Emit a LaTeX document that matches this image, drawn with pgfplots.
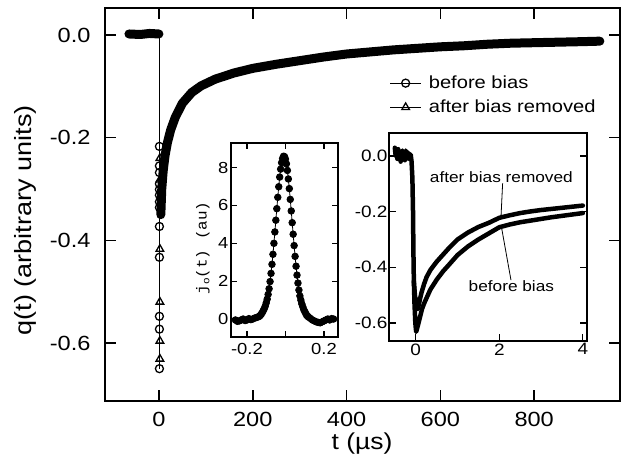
\documentclass[border=0pt]{standalone}
\usepackage{fontspec}
\setmainfont[FakeStretch=1.15]{Liberation Sans}
\setmonofont[FakeStretch=1.1]{Liberation Mono}
\usepackage{pgfplots}
\pgfplotsset{compat=1.18}
\begin{document}
\begin{tikzpicture}[x=1pt,y=1pt]
\useasboundingbox (0,0) rectangle (623,472);
% ---------------- main axis ----------------
\begin{axis}[
  at={(105pt,71pt)}, anchor=south west,
  scale only axis, width=515pt, height=393pt,
  xmin=-115, xmax=983, ymin=-0.713, ymax=0.0526,
  xtick={0,200,400,600,800}, ytick={-0.6,-0.4,-0.2,0},
  tick align=inside, major tick length=11pt,
  axis line style={line width=1.6pt}, tick style={line width=1.5pt, black},
  /pgf/number format/assume math mode=true,
  yticklabel style={/pgf/number format/fixed, /pgf/number format/fixed zerofill, /pgf/number format/precision=1, xshift=-11pt},
  ticklabel style={font=\fontsize{20.5}{22}\selectfont},
  xticklabel style={yshift=-8pt},
  xlabel={t (\textmu s)}, ylabel={q(t) (arbitrary units)},
  every axis x label/.style={at={(axis description cs:0.499,-0.107)}, anchor=center, font=\fontsize{23}{26}\selectfont},
  every axis y label/.style={at={(axis description cs:-0.155,0.46)}, rotate=90, anchor=center, font=\fontsize{23.5}{26}\selectfont},
  legend style={draw=none, fill=none, at={(axis description cs:0.55,0.835)}, anchor=north west,
    font=\fontsize{17.5}{19}\selectfont, row sep=6pt, inner sep=1pt, nodes={inner sep=2pt}},
  legend cell align=left,
  legend image code/.code={\draw[mark repeat=2,mark phase=2] plot coordinates {(0cm,0cm) (0.55cm,0cm) (1.1cm,0cm)};},
]
% thick data band: flat part
\addplot[black, line width=9pt, line cap=round, forget plot] coordinates {(-64,0.002) (-40,0.001) (-20,0.003) (0,0.002)};
% thick data band: recovery
\addplot[black, line width=9pt, line cap=round, line join=round, forget plot] coordinates {
(4,-0.35) (6,-0.30) (9,-0.265) (13,-0.235) (18,-0.21) (25,-0.185) (35,-0.16) (50,-0.133)
(70,-0.112) (90,-0.099) (120,-0.086) (160,-0.074) (200,-0.065) (250,-0.057) (300,-0.050)
(350,-0.043) (400,-0.037) (450,-0.033) (500,-0.029) (550,-0.026) (600,-0.023) (650,-0.021)
(700,-0.018) (750,-0.016) (800,-0.015) (850,-0.014) (900,-0.013) (940,-0.012)};
% vertical drops
\addplot[black, line width=1.1pt, forget plot] coordinates {(1,0.002) (1,-0.65)};
\addplot[black, line width=1.1pt, forget plot] coordinates {(2,0.002) (2,-0.631)};
\addplot[black, line width=1.1pt, mark=o, mark size=4pt, mark options={line width=1.3pt, fill=white}] coordinates {
(1,-0.217) (1,-0.255) (1,-0.268) (1,-0.290) (1,-0.301) (1,-0.312) (1,-0.325) (1,-0.336)
(1,-0.373) (1,-0.433) (1,-0.548) (1,-0.573) (1,-0.650)};
\addlegendentry{\hspace{5pt}before bias}
\addplot[black, line width=1.1pt, mark=triangle, mark size=4.4pt, mark options={line width=1.3pt, fill=white}] coordinates {
(2,-0.240) (2,-0.282) (2,-0.417) (2,-0.520) (2,-0.596) (2,-0.631)};
\addlegendentry{\hspace{5pt}after bias removed}
\end{axis}
% ---------------- inset 1 ----------------
\begin{axis}[
  at={(231pt,135pt)}, anchor=south west,
  scale only axis, width=107pt, height=194pt,
  xmin=-0.283, xmax=0.273, ymin=-0.95, ymax=9.3,
  xtick={-0.2,0,0.2}, xticklabels={-0.2,,0.2}, ytick={0,2,4,6,8},
  tick align=inside, major tick length=6pt,
  axis background/.style={fill=white},
  axis line style={line width=1.3pt}, tick style={line width=1.2pt, black},
  /pgf/number format/assume math mode=true,
  ticklabel style={font=\fontsize{16}{18}\selectfont},
  yticklabel style={xshift=1pt},
  xticklabel style={yshift=-3pt},
  ylabel={\ttfamily j\raisebox{-0.35ex}{\fontsize{10}{10}\selectfont o}(t) (au)},
  every axis y label/.style={at={(axis description cs:-0.262,0.459)}, rotate=90, anchor=center, font=\fontsize{14.5}{16}\selectfont},
]
\addplot[black, line width=0.8pt, mark=*, mark size=3.3pt] coordinates {
(-0.26,-0.05) (-0.25,-0.12) (-0.24,-0.10) (-0.23,-0.05) (-0.22,0.0) (-0.21,-0.08) (-0.20,-0.05)
(-0.19,0.02) (-0.18,-0.03) (-0.17,0.0) (-0.16,0.05) (-0.15,0.08) (-0.14,0.12) (-0.135,0.15)
(-0.13,0.2) (-0.125,0.27) (-0.12,0.35) (-0.115,0.45) (-0.11,0.55) (-0.105,0.68) (-0.10,0.85)
(-0.095,1.05) (-0.09,1.3) (-0.085,1.6) (-0.08,1.98) (-0.075,2.41) (-0.07,2.89) (-0.065,3.42)
(-0.06,4.0) (-0.055,4.6) (-0.05,5.22) (-0.045,5.83) (-0.04,6.43) (-0.035,6.99) (-0.03,7.5)
(-0.025,7.92) (-0.02,8.26) (-0.015,8.48) (-0.01,8.6) (-0.005,8.58) (0,8.45) (0.005,8.2)
(0.01,7.85) (0.015,7.4) (0.02,6.89) (0.025,6.32) (0.03,5.71) (0.035,5.09) (0.04,4.48)
(0.045,3.88) (0.05,3.31) (0.055,2.79) (0.06,2.32) (0.065,1.9) (0.07,1.53) (0.075,1.22)
(0.08,1.0) (0.085,0.8) (0.09,0.65) (0.095,0.5) (0.10,0.4) (0.105,0.3) (0.11,0.2) (0.115,0.15)
(0.12,0.1) (0.13,0.03) (0.14,-0.05) (0.15,-0.1) (0.16,-0.15) (0.17,-0.18) (0.18,-0.2)
(0.19,-0.15) (0.20,-0.1) (0.21,-0.05) (0.22,0.0) (0.23,-0.05) (0.24,0.02) (0.25,0.0)};
\end{axis}
% ---------------- inset 2 ----------------
\begin{axis}[
  at={(389pt,131pt)}, anchor=south west,
  scale only axis, width=198pt, height=208pt,
  xmin=-0.64, xmax=4.1, ymin=-0.665, ymax=0.083,
  xtick={0,2,4}, ytick={-0.6,-0.4,-0.2,0},
  xtick pos=bottom,
  tick align=inside, major tick length=7pt,
  axis background/.style={fill=white},
  axis line style={line width=1.3pt}, tick style={line width=1.2pt, black},
  /pgf/number format/assume math mode=true,
  yticklabel style={/pgf/number format/fixed, /pgf/number format/fixed zerofill, /pgf/number format/precision=1, xshift=2pt},
  ticklabel style={font=\fontsize{16.5}{18}\selectfont},
  xticklabel style={yshift=1pt},
]
\addplot[black, line width=4.5pt, line join=round, line cap=round] coordinates {
(-0.50,0.03) (-0.48,0.0) (-0.46,0.02) (-0.44,-0.01) (-0.42,0.025) (-0.40,0.0) (-0.38,0.015)
(-0.36,-0.02) (-0.34,0.01) (-0.32,0.02) (-0.30,-0.01) (-0.28,0.015) (-0.26,-0.015) (-0.24,0.02)
(-0.22,0.0) (-0.20,0.015) (-0.18,-0.01) (-0.16,0.01) (-0.14,0.0) (-0.12,0.005) (-0.10,-0.02)
(-0.08,-0.08) (-0.065,-0.2) (-0.055,-0.35) (-0.045,-0.45) (-0.03,-0.53) (-0.01,-0.60)
(0.01,-0.632) (0.05,-0.61) (0.10,-0.58) (0.15,-0.55) (0.20,-0.53) (0.26,-0.51) (0.35,-0.48)
(0.50,-0.445) (0.65,-0.415) (0.80,-0.39) (1.0,-0.356) (1.25,-0.325) (1.5,-0.30) (1.75,-0.278)
(2.0,-0.256) (2.25,-0.246) (2.5,-0.238) (2.75,-0.232) (3.0,-0.226) (3.25,-0.22) (3.5,-0.215)
(3.75,-0.21) (4.0,-0.205)};
\addplot[black, line width=4.5pt, line join=round, line cap=round] coordinates {
(-0.045,-0.45) (-0.02,-0.50) (0.02,-0.54) (0.05,-0.55) (0.08,-0.53) (0.10,-0.515) (0.14,-0.49)
(0.20,-0.46) (0.26,-0.435) (0.35,-0.41) (0.50,-0.38) (0.65,-0.355) (0.80,-0.33) (1.0,-0.30)
(1.25,-0.275) (1.5,-0.255) (1.75,-0.24) (2.0,-0.222) (2.25,-0.213) (2.5,-0.205) (2.75,-0.199)
(3.0,-0.194) (3.25,-0.19) (3.5,-0.186) (3.75,-0.182) (4.0,-0.178)};
\draw[black, line width=0.8pt] (axis cs:2.08,-0.098) -- (axis cs:2.04,-0.222);
\draw[black, line width=0.8pt] (axis cs:2.28,-0.446) -- (axis cs:2.06,-0.262);
\node[font=\fontsize{15}{16}\selectfont] at (axis cs:2.05,-0.075) {after bias removed};
\node[font=\fontsize{15}{16}\selectfont] at (axis cs:2.29,-0.466) {before bias};
\end{axis}
\end{tikzpicture}
\end{document}
